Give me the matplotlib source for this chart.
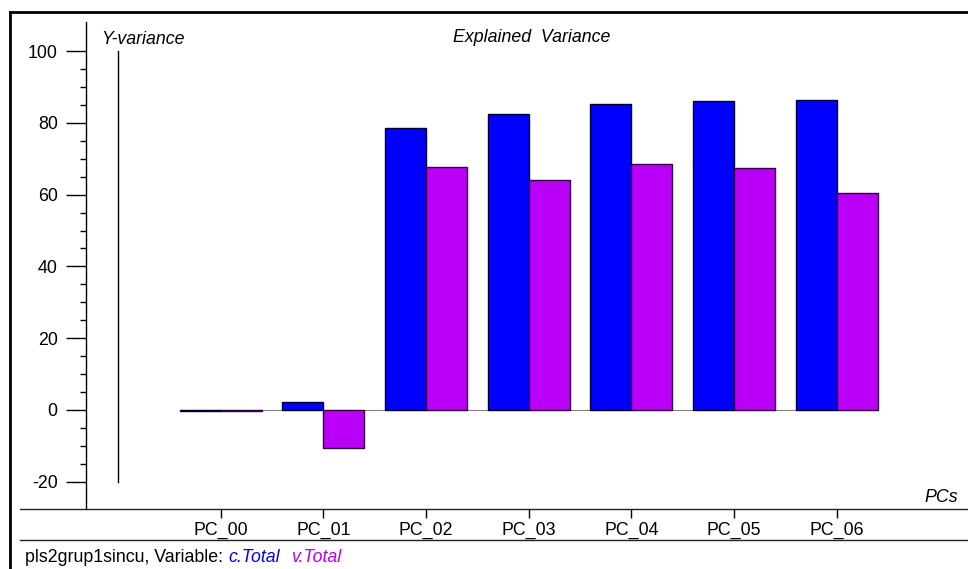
import numpy as np
import matplotlib.pyplot as plt
from matplotlib.lines import Line2D

#======================================
#           data
#======================================
pcs     = ['PC_00', 'PC_01', 'PC_02', 'PC_03', 'PC_04', 'PC_05', 'PC_06']
c_total = [-0.3, 2.2, 78.5, 82.4, 85.2, 86.1, 86.4]
v_total = [-0.3, -10.6, 67.7, 64.1, 68.5, 67.4, 60.4]

c_blue    = '#0000ff'
c_magenta = '#bb00f8'

plt.rcParams['font.family'] = ['Liberation Sans', 'DejaVu Sans']
plt.rcParams['font.size'] = 12.8
plt.rcParams['axes.unicode_minus'] = False

#======================================
#           figure
#======================================
W, H = 968, 569
fig = plt.figure(figsize=(W/100, H/100), dpi=100)

def fx(px):
    return px / W
def fy(py):
    return 1 - py / H

ax = fig.add_axes([fx(86), fy(509), fx(968) - fx(86), fy(22) - fy(509)])

a_x = np.arange(len(pcs))
w = 0.4
ax.bar(a_x - w/2, c_total, w, color=c_blue, edgecolor='#000030', linewidth=1, zorder=3)
ax.bar(a_x + w/2, v_total, w, color=c_magenta, edgecolor='#300040', linewidth=1, zorder=3)
ax.plot([a_x[0] - w, a_x[-1] + w], [0, 0], color='#808080', lw=0.8, zorder=2)

# vertical reference line
ax.plot([-1, -1], [-20, 100], color='black', lw=1)

ax.set_xlim(-1.312, 7.279)
ax.set_ylim(-27.6, 108.1)

for s in ['top', 'right', 'bottom']:
    ax.spines[s].set_visible(False)
ax.spines['left'].set_linewidth(1)

ax.set_yticks(np.arange(-20, 101, 20))
ax.set_yticks(np.arange(-20, 101, 5), minor=True)
ax.tick_params(axis='y', which='major', length=14.4, width=1, pad=6)
ax.tick_params(axis='y', which='minor', length=4.3, width=1)
ax.set_xticks(a_x)
ax.set_xticklabels(pcs)
ax.tick_params(axis='x', length=6.5, width=1, pad=3)

#------------texts---------------------
ax.text(0.017, 0.965, 'Y-variance', transform=ax.transAxes, style='italic',
        ha='left', va='center')
fig.text(fx(532), fy(38), 'Explained  Variance', style='italic', ha='center', va='center')
fig.text(fx(958), fy(497), 'PCs', style='italic', ha='right', va='center')
fig.text(fx(25), fy(557), 'pls2grup1sincu, Variable: ', ha='left', va='center')
fig.text(fx(228), fy(557), 'c.Total', color=c_blue, style='italic', ha='left', va='center')
fig.text(fx(291), fy(557), 'v.Total', color=c_magenta, style='italic', ha='left', va='center')

#------------frame lines---------------
fig.add_artist(Line2D([fx(20), 1], [fy(509), fy(509)], color='#202020', lw=1))
fig.add_artist(Line2D([fx(20), 1], [fy(540), fy(540)], color='#202020', lw=1))
fig.add_artist(Line2D([fx(10), 1], [fy(12), fy(12)], color='black', lw=2))
fig.add_artist(Line2D([fx(10), fx(10)], [fy(12), 0], color='black', lw=2))

fig.savefig('out.png', dpi=100)
